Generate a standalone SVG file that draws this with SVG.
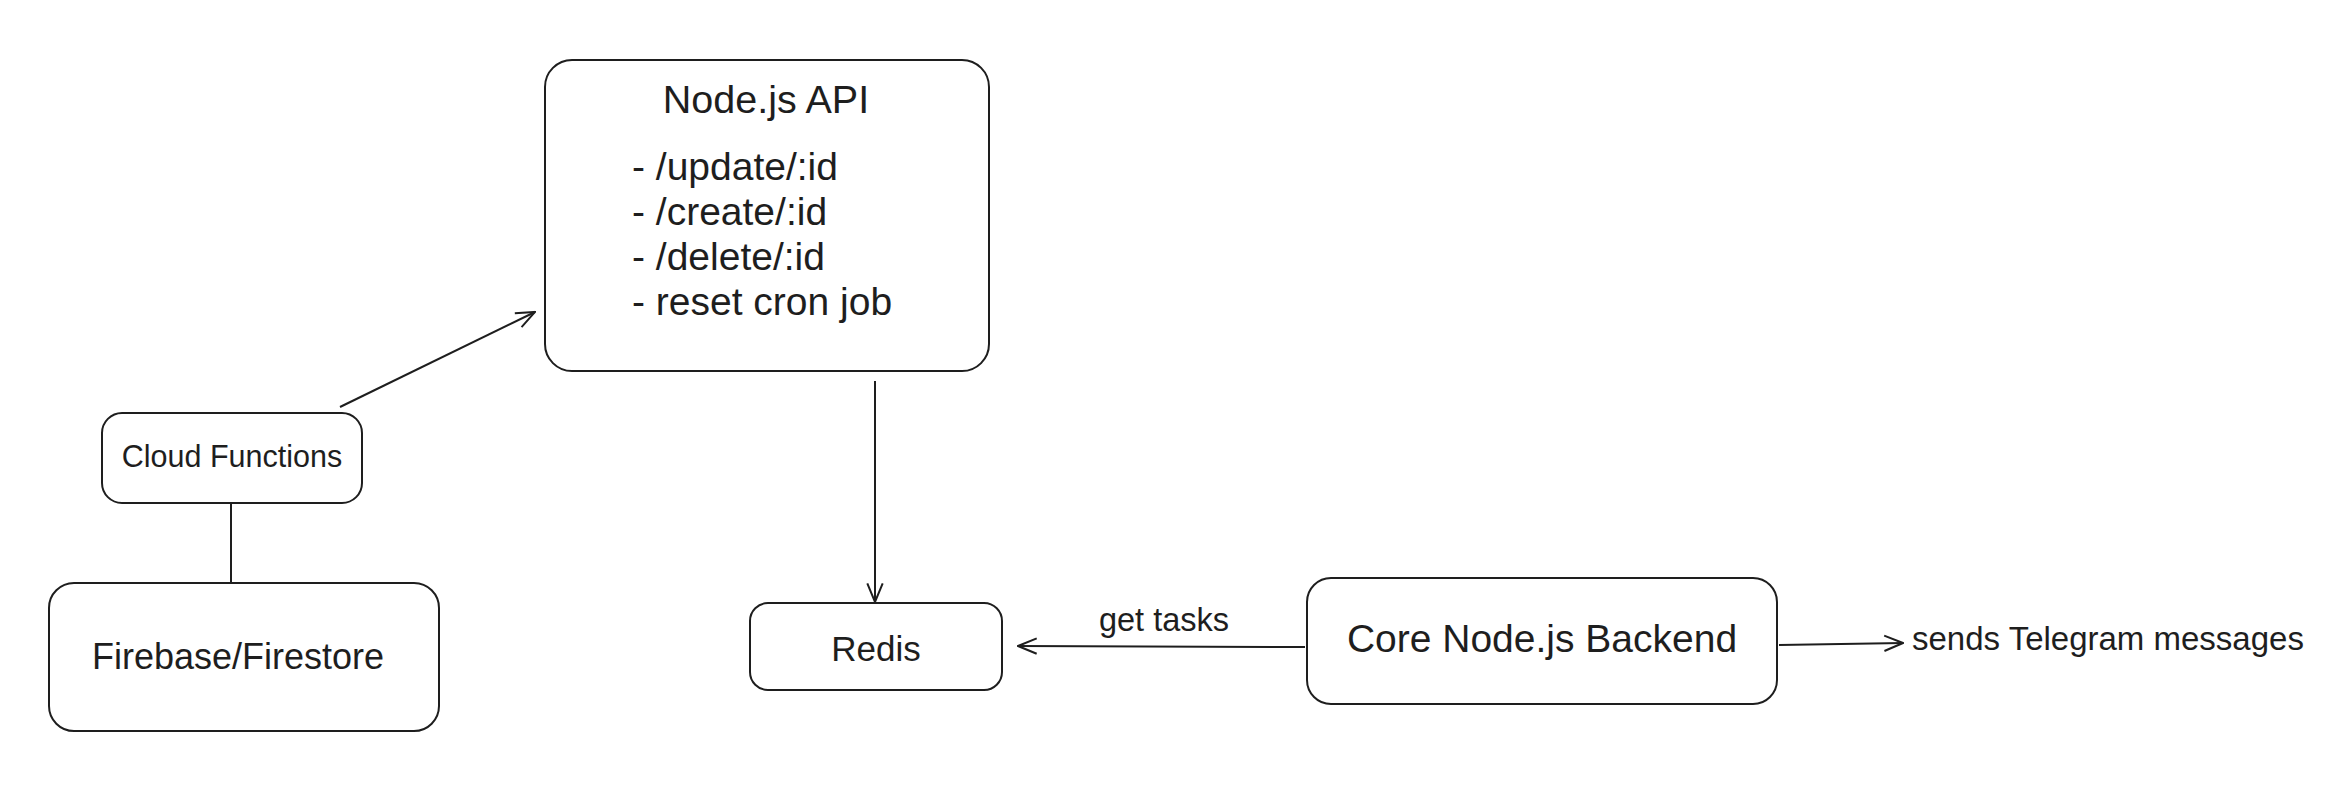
<svg xmlns="http://www.w3.org/2000/svg" width="2340" height="788" viewBox="0 0 2340 788">
<style>
.box{fill:#ffffff;stroke:#1e1e1e;stroke-width:2}
.t{font-family:"Liberation Sans",Arial,sans-serif;fill:#1e1e1e}
.edge{stroke:#1e1e1e;stroke-width:2;fill:none}
</style>
<defs>
<marker id="arr" viewBox="0 0 20 20" refX="19" refY="10" markerWidth="22" markerHeight="22" markerUnits="userSpaceOnUse" orient="auto">
<path d="M2,3 L19,10 L2,17" fill="none" stroke="#1e1e1e" stroke-width="1.8"/>
</marker>
</defs>
<rect width="2340" height="788" fill="#ffffff"/>
<g id="connectors">
<line class="edge" x1="340" y1="407" x2="535" y2="312" marker-end="url(#arr)"/>
<line class="edge" x1="231" y1="503" x2="231" y2="583"/>
<line class="edge" x1="875" y1="381" x2="875" y2="602" marker-end="url(#arr)"/>
<line class="edge" x1="1305" y1="647" x2="1018" y2="646" marker-end="url(#arr)"/>
<text class="t" x="1164" y="631" font-size="32.5" text-anchor="middle">get tasks</text>
<line class="edge" x1="1779" y1="645" x2="1903" y2="643" marker-end="url(#arr)"/>
</g>
<g id="node-api">
<rect class="box" x="545" y="60" width="444" height="311" rx="27"/>
<text class="t" x="766" y="113" font-size="39.5" text-anchor="middle">Node.js API</text>
<text class="t" x="632" y="180" font-size="39">- /update/:id</text>
<text class="t" x="632" y="225" font-size="39">- /create/:id</text>
<text class="t" x="632" y="270" font-size="39">- /delete/:id</text>
<text class="t" x="632" y="315" font-size="39">- reset cron job</text>
</g>
<g id="cloud-functions">
<rect class="box" x="102" y="413" width="260" height="90" rx="20"/>
<text class="t" x="232" y="467" font-size="30.5" text-anchor="middle">Cloud Functions</text>
</g>
<g id="firebase">
<rect class="box" x="49" y="583" width="390" height="148" rx="25"/>
<text class="t" x="238" y="669" font-size="36" text-anchor="middle">Firebase/Firestore</text>
</g>
<g id="redis">
<rect class="box" x="750" y="603" width="252" height="87" rx="18"/>
<text class="t" x="876" y="661" font-size="35" text-anchor="middle">Redis</text>
</g>
<g id="core-backend">
<rect class="box" x="1307" y="578" width="470" height="126" rx="24"/>
<text class="t" x="1542" y="652" font-size="39" text-anchor="middle">Core Node.js Backend</text>
</g>
<g id="telegram-label">
<text class="t" x="1912" y="650" font-size="33">sends Telegram messages</text>
</g>
</svg>
